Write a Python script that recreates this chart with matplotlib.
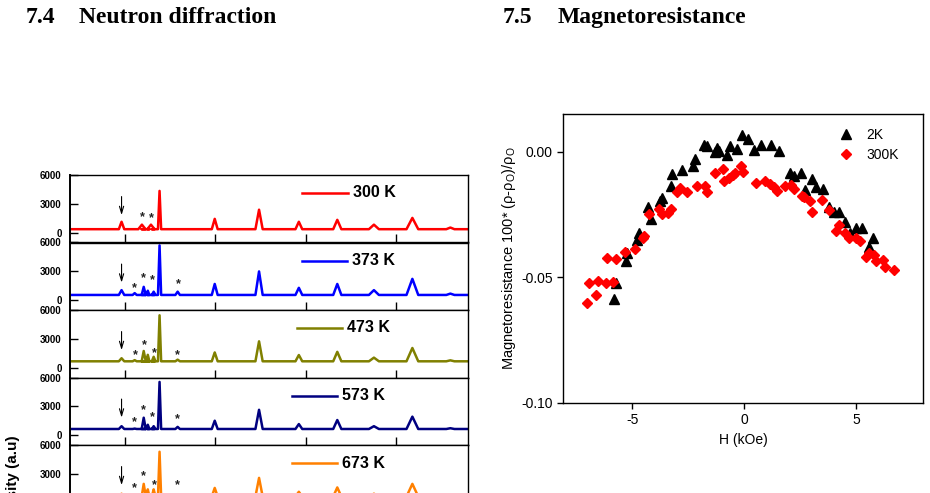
import numpy as np
import matplotlib
matplotlib.use("Agg")
import matplotlib.pyplot as plt

# ---------------- data: neutron diffraction ----------------
temps = ["300 K", "373 K", "473 K", "573 K", "673 K"]
colors = ["#ff0000", "#0000ff", "#808000", "#000080", "#ff8000"]
baselines = [380, 560, 680, 660, 650]

peak_pos = [19.3, 22.2, 23.8, 24.2, 25.1, 25.8, 26.4, 27.7, 31.7, 39.9, 49.7, 58.5, 67.0, 75.1, 83.6, 92.0]
peak_hw = [0.6, 0.45, 0.8, 0.45, 0.35, 0.8, 0.4, 0.35, 0.5, 0.65, 0.8, 0.75, 0.9, 1.1, 1.3, 0.9]
heights_300 = [1150, 380, 850, 380, 380, 850, 380, 4350, 380, 1450, 2400, 1150, 1350, 850, 1550, 550]
heights_373 = [1060, 750, 560, 1400, 1000, 560, 900, 5700, 900, 1700, 3000, 1300, 1700, 1060, 2230, 700]
heights_473 = [1000, 800, 680, 1750, 1350, 680, 1150, 5450, 850, 1600, 2750, 1330, 1660, 1060, 2060, 780]
heights_573 = [950, 700, 660, 1830, 1100, 660, 950, 5540, 880, 1520, 2650, 1170, 1590, 950, 1940, 740]
heights_673 = [950, 750, 650, 1970, 1400, 650, 1400, 5300, 900, 1550, 2590, 1150, 1600, 950, 1970, 740]
all_heights = [heights_300, heights_373, heights_473, heights_573, heights_673]

arrow_x = 19.3
arrow_y = (4050, 1550)
star_x = [[23.8, 25.8], [22.2, 24.2, 26.2, 31.9], [22.4, 24.4, 26.6, 31.7],
          [22.2, 24.2, 26.2, 31.7], [22.2, 24.2, 26.6, 31.6]]
star_y = [[1580, 1480], [1300, 2300, 2090, 1660], [1330, 2330, 1560, 1330],
          [1410, 2580, 1880, 1660], [1510, 2720, 1860, 1860]]

xlim_nd = (7.9, 95.9)
xticks_nd = [20, 40, 60, 80]
yticks_nd = [0, 3000, 6000]

# ---------------- data: magnetoresistance ----------------
h_2k = [-5.82, -5.71, -5.30, -5.23, -4.81, -4.71, -4.29, -4.18, -3.77, -3.69, -3.29, -3.21,
        -2.79, -2.30, -2.20, -1.79, -1.67, -1.30, -1.20, -1.11, -0.78, -0.63, -0.30, -0.08,
        0.19, 0.42, 0.75, 1.20, 1.54, 2.03, 2.21, 2.54, 2.74, 3.04, 3.23, 3.53, 3.78, 4.01,
        4.23, 4.53, 4.72, 5.02, 5.25, 5.58, 5.77]
mr_2k = [-0.0587, -0.0521, -0.0434, -0.0402, -0.0351, -0.0322, -0.0221, -0.0269, -0.0195,
         -0.0184, -0.0137, -0.0089, -0.0073, -0.0057, -0.0030, 0.0027, 0.0023, 0.0000, 0.0013,
         0.0004, -0.0013, 0.0023, 0.0010, 0.0065, 0.0049, 0.0007, 0.0025, 0.0028, 0.0004,
         -0.0084, -0.0097, -0.0086, -0.0152, -0.0110, -0.0139, -0.0150, -0.0219, -0.0239,
         -0.0239, -0.0279, -0.0322, -0.0305, -0.0305, -0.0381, -0.0345]
h_300k = [-7.03, -6.94, -6.61, -6.53, -6.19, -6.13, -5.86, -5.71, -5.34, -4.89, -4.54, -4.48,
          -4.25, -3.80, -3.69, -3.40, -3.29, -3.02, -2.87, -2.57, -2.09, -1.75, -1.67, -1.30,
          -0.96, -0.90, -0.66, -0.51, -0.40, -0.13, -0.06, 0.54, 0.94, 1.14, 1.35, 1.47, 1.84,
          2.09, 2.24, 2.59, 2.69, 2.93, 3.04, 3.48, 3.78, 4.13, 4.23, 4.53, 4.69, 4.99, 5.19,
          5.44, 5.58, 5.81, 5.89, 6.22, 6.28, 6.70]
mr_300k = [-0.0603, -0.0524, -0.0570, -0.0513, -0.0521, -0.0424, -0.0517, -0.0428, -0.0398,
           -0.0388, -0.0345, -0.0335, -0.0248, -0.0229, -0.0248, -0.0245, -0.0229, -0.0159,
           -0.0146, -0.0159, -0.0137, -0.0137, -0.0159, -0.0084, -0.0070, -0.0115, -0.0106,
           -0.0093, -0.0084, -0.0057, -0.0080, -0.0123, -0.0115, -0.0129, -0.0142, -0.0155,
           -0.0137, -0.0133, -0.0150, -0.0176, -0.0182, -0.0195, -0.0239, -0.0192, -0.0232,
           -0.0314, -0.0292, -0.0325, -0.0345, -0.0345, -0.0354, -0.0418, -0.0404, -0.0411,
           -0.0434, -0.0431, -0.0457, -0.0470]
mr_xticks = [-5, 0, 5]
mr_yticks = [-0.10, -0.05, 0.00]
mr_yticklabels = ["-0.10", "-0.05", "0.00"]

# ---------------- figure ----------------
W, H = 930, 493
fig = plt.figure(figsize=(W / 100, H / 100), dpi=100)
plt.rcParams['font.family'] = ['Liberation Sans', 'DejaVu Sans']
plt.rcParams['mathtext.default'] = 'regular'

def fr(x0, y0, x1, y1):
    return [x0 / W, 1 - y1 / H, (x1 - x0) / W, (y1 - y0) / H]

# headings
serif = ['Liberation Serif', 'DejaVu Serif']
fig.text(26 / W, 1 - 23 / H, "7.4", family=serif, weight='bold', size=17, va='baseline')
fig.text(79 / W, 1 - 23 / H, "Neutron diffraction", family=serif, weight='bold', size=17, va='baseline')
fig.text(503 / W, 1 - 23 / H, "7.5", family=serif, weight='bold', size=17, va='baseline')
fig.text(558 / W, 1 - 23 / H, "Magnetoresistance", family=serif, weight='bold', size=17, va='baseline')

# neutron diffraction panels
panel_h = 67.5
legend_x = [(302, 348), (302, 347), (297, 342), (292, 337), (292, 337)]
for i in range(5):
    top = 175 + panel_h * i
    ax = fig.add_axes(fr(70, top, 468, top + panel_h))
    base = baselines[i]
    hs = all_heights[i]
    xs = [xlim_nd[0]]
    ys = [base]
    for p, w, hgt in zip(peak_pos, peak_hw, hs):
        xs += [p - w, p, p + w]
        ys += [base, hgt, base]
    xs.append(xlim_nd[1])
    ys.append(base)
    ax.plot(xs, ys, color=colors[i], lw=1.8, solid_joinstyle='round')
    ax.set_xlim(*xlim_nd)
    ax.set_ylim(-1000, 6000)
    ax.set_xticks(xticks_nd)
    ax.set_yticks(yticks_nd)
    ax.set_xticklabels([])
    ax.set_yticklabels([str(v) for v in yticks_nd], fontsize=7, fontweight='bold')
    ax.tick_params(axis='x', direction='in', length=6, width=1, top=False)
    ax.tick_params(axis='y', direction='in', length=6, width=1, pad=6, right=False)
    for s in ax.spines.values():
        s.set_linewidth(1.0)
    ax.spines['left'].set_linewidth(1.4)
    # arrow
    ax.annotate('', xy=(arrow_x, arrow_y[1]), xytext=(arrow_x, arrow_y[0]),
                arrowprops=dict(arrowstyle='->,head_width=0.15,head_length=0.5', lw=0.8, color='black'))
    for sx, sy in zip(star_x[i], star_y[i]):
        ax.text(sx, sy, '*', fontsize=9, fontweight='bold', ha='center', va='center', color='#222222')
    # legend
    lx0, lx1 = legend_x[i]
    ly = 193 - 175
    ax.plot([(lx0 - 70) / 398, (lx1 - 70) / 398], [1 - ly / panel_h] * 2,
            transform=ax.transAxes, color=colors[i], lw=1.8, clip_on=False)
    ax.text((lx1 + 5 - 70) / 398, 1 - ly / panel_h, temps[i], transform=ax.transAxes,
            fontsize=11.5, fontweight='bold', va='center', ha='left')

fig.text(13 / W, 1 - 435 / H, "Intensity (a.u)", rotation=90, fontsize=11, fontweight='bold',
         ha='center', va='top')

# magnetoresistance
ax2 = fig.add_axes(fr(563, 114, 923, 403))
ax2.plot(h_2k, mr_2k, linestyle='none', marker='^', ms=7, color='black', label='2K')
ax2.plot(h_300k, mr_300k, linestyle='none', marker='D', ms=5.5, color='#ff0000', label='300K')
ax2.set_xlim(-8.1, 8.0)
ax2.set_ylim(-0.10, 0.015)
ax2.set_xticks(mr_xticks)
ax2.set_xticklabels([str(v) for v in mr_xticks], fontsize=10)
ax2.set_yticks(mr_yticks)
ax2.set_yticklabels(mr_yticklabels, fontsize=10)
ax2.tick_params(direction='out', length=4, width=1)
for s in ax2.spines.values():
    s.set_linewidth(1.0)
ax2.set_xlabel("H (kOe)", fontsize=10, labelpad=4)
ax2.set_ylabel("Magnetoresistance 100* (\u03c1-\u03c1$_O$)/\u03c1$_O$", fontsize=10.5, labelpad=2)
ax2.legend(loc='upper right', frameon=False, fontsize=10, handletextpad=0.5,
           borderaxespad=0.3, labelspacing=0.45, bbox_to_anchor=(0.96, 0.985))

fig.savefig("out.png", dpi=100)
